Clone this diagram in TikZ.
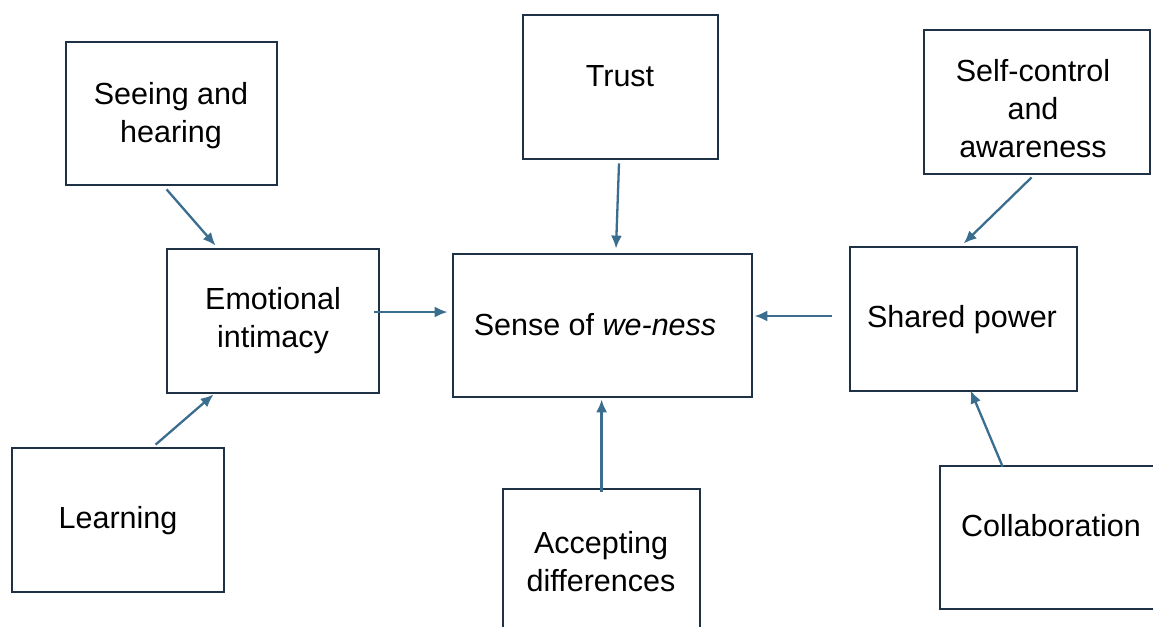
\documentclass[tikz,border=0pt]{standalone}
\usepackage{fontspec}
\setmainfont{Liberation Sans}
\usetikzlibrary{calc,arrows.meta}
\definecolor{boxline}{HTML}{1F3245}
\definecolor{arrowc}{HTML}{3A6D8E}
\begin{document}
\begin{tikzpicture}[x=1pt,y=-1pt,
  box/.style={draw=boxline,line width=2.8pt,rectangle,inner sep=0pt,fill=white},
  txt/.style={align=center,inner sep=0pt,font=\fontsize{30.5}{38}\selectfont},
  conn/.style={draw=arrowc,line width=2.3pt,-{Latex[length=13pt,width=11pt]}}]
\useasboundingbox (0,0) rectangle (1153,626);
\clip (0,0) rectangle (1153,626);
% boxes
\node[box,minimum width=211pt,minimum height=143pt] (seeing) at (171.5,113.5) {};
\node[box,minimum width=195pt,minimum height=144pt] (trust) at (620.5,87) {};
\node[box,minimum width=226pt,minimum height=144pt] (self) at (1037,102) {};
\node[box,minimum width=212pt,minimum height=144pt] (emo) at (273,321) {};
\node[box,minimum width=299pt,minimum height=143pt] (sense) at (602.5,325.5) {};
\node[box,minimum width=227pt,minimum height=144pt] (shared) at (963.5,319) {};
\node[box,minimum width=212pt,minimum height=144pt] (learn) at (118,520) {};
\node[box,minimum width=197pt,minimum height=144pt] (acc) at (601.5,561) {};
\node[box,minimum width=223pt,minimum height=143pt] (collab) at (1051.5,537.5) {};
% texts
\node[txt] (seeingt) at (171,116) {Seeing and\\hearing};
\node[txt] (trustt) at (620,76) {Trust};
\node[txt] (selft) at (1033,109) {Self-control\\and\\awareness};
\node[txt] (emot) at (273,321) {Emotional\\intimacy};
\node[txt] (senset) at (595,325) {Sense of \textit{we-ness}};
\node[txt] (sharedt) at (962,320) {Shared power};
\node[txt] (learnt) at (118,521) {Learning};
\node[txt] (acct) at (601,562) {Accepting\\differences};
\node[txt] (collabt) at (1051,526) {Collaboration};
% connectors
\draw[conn] ($(seeing.south west)+(102,3)$) -- ($(emo.north west)+(50,-2)$);
\draw[conn] ($(learn.north west)+(145,-2)$) -- ($(emo.south west)+(48,0)$);
\draw[conn] ($(emo.east)+(-6,-9)$) -- ($(sense.west)+(-4,-13.5)$);
\draw[conn] ($(trust.south)+(-1.5,3)$) -- ($(sense.north)+(13.5,-4)$);
\draw[conn] ($(shared.west)+(-17,-3)$) -- ($(sense.east)+(1,-9.5)$);
\draw[conn] ($(self.south west)+(109,2)$) -- ($(shared.north west)+(115,-2)$);
\draw[conn] ($(acc.north west)+(100,4)$) -- ($(sense.south west)+(150,1)$);
\draw[conn] ($(collab.north west)+(64,2)$) -- ($(shared.south west)+(122,-2)$);
\end{tikzpicture}
\end{document}
